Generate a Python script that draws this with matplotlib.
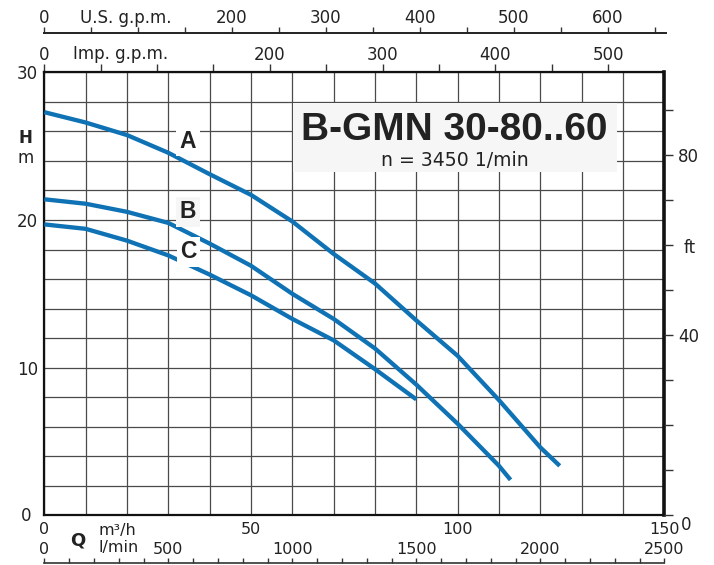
import numpy as np
import matplotlib
matplotlib.use("Agg")
import matplotlib.pyplot as plt
from matplotlib.patches import Rectangle

plt.rcParams['font.family'] = ['DejaVu Sans']

# ---------------- data ----------------
q_a = [0, 10, 20, 30, 40, 50, 60, 70, 80, 90, 100, 110, 120, 124.7]
h_a = [27.3, 26.6, 25.75, 24.55, 23.1, 21.7, 19.9, 17.7, 15.7, 13.2, 10.8, 7.8, 4.6, 3.35]
q_b = [0, 10, 20, 30, 40, 50, 60, 70, 80, 90, 100, 110, 112.8]
h_b = [21.4, 21.1, 20.55, 19.8, 18.4, 16.9, 15.0, 13.3, 11.3, 8.85, 6.2, 3.35, 2.4]
q_c = [0, 10, 20, 30, 40, 50, 60, 70, 80, 90]
h_c = [19.7, 19.4, 18.6, 17.6, 16.3, 14.9, 13.3, 11.85, 9.9, 7.85]

curve_labels = ['A', 'B', 'C']
title = 'B-GMN 30-80..60'
subtitle = 'n = 3450 1/min'

x_major = [0, 50, 100, 150]
y_major = [10, 20, 30]
ft_labels = {40: '40', 80: '80'}
us_labels = {0: '0', 200: '200', 300: '300', 400: '400', 500: '500', 600: '600'}
imp_labels = {0: '0', 200: '200', 300: '300', 400: '400', 500: '500'}
lmin_labels = {0: '0', 500: '500', 1000: '1000', 1500: '1500', 2000: '2000', 2500: '2500'}

US_GPM = 4.40287   # per m3/h
IMP_GPM = 3.66615  # per m3/h
LMIN = 1000 / 60.0
FT = 3.28084

W, H = 714, 565
fig = plt.figure(figsize=(W / 100, H / 100), dpi=100)

def fx(x):
    return x / W

def fy(y):
    return 1 - y / H

X0, X1 = 44.3, 664.3
Y0, Y1 = 515.3, 72.3
ax = fig.add_axes([fx(X0), fy(Y0), (X1 - X0) / W, (Y0 - Y1) / H])
ax.set_xlim(0, 150)
ax.set_ylim(0, 30)

TXT = '#222222'
GRID = '#4a4a4a'
BLUE = '#0f72b4'
FS = 12
FSB = 11.5

ax.set_xticks(x_major)
ax.set_xticklabels([str(v) for v in x_major])
ax.set_xticks(np.arange(0, 151, 10), minor=True)
ax.set_yticks(y_major)
ax.set_yticklabels([str(v) for v in y_major])
ax.set_yticks(np.arange(0, 31, 2), minor=True)
ax.tick_params(axis='x', which='both', length=0, pad=5.0, labelsize=FSB, labelcolor=TXT)
ax.tick_params(axis='y', which='both', length=0, pad=4.5, labelsize=FS, labelcolor=TXT)
ax.grid(True, which='both', color=GRID, linewidth=0.9)
ax.set_axisbelow(True)
for s in ['left', 'bottom', 'top']:
    ax.spines[s].set_linewidth(1.6)
    ax.spines[s].set_color('#111111')
ax.spines['right'].set_linewidth(2.6)
ax.spines['right'].set_color('#111111')

# curves
for q, h in [(q_a, h_a), (q_b, h_b), (q_c, h_c)]:
    ax.plot(q, h, color=BLUE, linewidth=3.1, solid_capstyle='butt', solid_joinstyle='round', zorder=5)

# curve labels
lab_pos = [(34.8, 25.34, 'white'), (34.8, 20.55, '#f6f6f6'), (34.8, 17.85, 'white')]
for lab, (x, y, bg) in zip(curve_labels, lab_pos):
    ax.text(x, y, lab, fontsize=16.5, fontweight='bold', family='Liberation Sans', color=TXT,
            ha='center', va='center', zorder=6,
            bbox=dict(boxstyle='square,pad=0.15', facecolor=bg, edgecolor='none'))

# title box
ax.add_patch(Rectangle((60.1, 23.26), 78.4, 4.64, facecolor='#f6f6f6', edgecolor='none', zorder=4))
ax.text(99.3, 26.1, title, fontsize=28, fontweight='bold', family='Liberation Sans', color=TXT,
        ha='center', va='center', zorder=6)
ax.text(99.3, 24.05, subtitle, fontsize=13.6, color=TXT, ha='center', va='center', zorder=6)

# right ft axis
ax2 = ax.twinx()
ax2.set_ylim(0, 30 * FT)
ft_ticks = np.arange(0, 91, 10)
ax2.set_yticks(ft_ticks)
ax2.set_yticklabels([ft_labels.get(int(t), '') for t in ft_ticks])
ax2.tick_params(axis='y', direction='out', length=6.5, width=1.0, pad=3.5, labelsize=FS,
                labelcolor=TXT, color='#333333')
for s in ax2.spines.values():
    s.set_visible(False)

# top Imp gpm axis (on top spine)
imp = ax.secondary_xaxis('top', functions=(lambda x: x * IMP_GPM, lambda x: x / IMP_GPM))
imp_ticks = np.arange(0, 551, 50)
imp.set_xticks(imp_ticks)
imp.set_xticklabels([imp_labels.get(int(t), '') for t in imp_ticks])
imp.tick_params(direction='out', length=5.5, width=1.0, pad=0.2, labelsize=FS, labelcolor=TXT, color='#333333')
imp.spines['top'].set_visible(False)

# top US gpm axis
us = fig.add_axes([fx(X0), fy(33.5), (X1 - X0 + 2) / W, 1e-4])
us.set_xlim(0, 150 * US_GPM * (X1 - X0 + 2) / (X1 - X0))
us_ticks = np.arange(0, 651, 50)
us.set_xticks(us_ticks)
us.set_xticklabels([us_labels.get(int(t), '') for t in us_ticks])
us.xaxis.tick_top()
us.tick_params(axis='x', direction='out', length=4, width=1.0, pad=0.6, labelsize=FS, labelcolor=TXT,
               color='#333333')
us.set_yticks([])
for s in ['left', 'right', 'bottom']:
    us.spines[s].set_visible(False)
us.spines['top'].set_linewidth(1.4)
us.spines['top'].set_color('#222222')
us.patch.set_visible(False)

# bottom l/min axis
lm = fig.add_axes([fx(X0), fy(562.7), (X1 - X0) / W, 1e-4])
lm.set_xlim(0, 150 * LMIN)
lm_ticks = np.arange(0, 2501, 100)
lm.set_xticks(lm_ticks)
lm.set_xticklabels([lmin_labels.get(int(t), '') for t in lm_ticks])
lm.xaxis.tick_top()
lm.tick_params(axis='x', direction='out', length=3.5, width=1.0, pad=0.6, labelsize=FSB, labelcolor=TXT,
               color='#333333')
lm.set_yticks([])
for s in ['left', 'right', 'bottom']:
    lm.spines[s].set_visible(False)
lm.spines['top'].set_linewidth(1.2)
lm.spines['top'].set_color('#333333')
lm.patch.set_visible(False)

# free texts
fig.text(fx(80), fy(23.3), 'U.S. g.p.m.', fontsize=FS, color=TXT, ha='left', va='baseline')
fig.text(fx(73), fy(59.3), 'Imp. g.p.m.', fontsize=FS, color=TXT, ha='left', va='baseline')
fig.text(fx(25), fy(138), 'H', fontsize=12, fontweight='bold', color=TXT, ha='center', va='center')
fig.text(fx(25.5), fy(163.3), 'm', fontsize=FS, color=TXT, ha='center', va='baseline')
fig.text(fx(26), fy(516), '0', fontsize=FS, color=TXT, ha='center', va='center')
fig.text(fx(686), fy(525), '0', fontsize=FS, color=TXT, ha='center', va='center')
fig.text(fx(689.5), fy(248), 'ft', fontsize=FS, color=TXT, ha='center', va='center')
fig.text(fx(78), fy(540), 'Q', fontsize=13, fontweight='bold', color=TXT, ha='center', va='center')
fig.text(fx(98), fy(535), 'm³/h', fontsize=FSB, color=TXT, ha='left', va='baseline')
fig.text(fx(98), fy(551.7), 'l/min', fontsize=FSB, color=TXT, ha='left', va='baseline')

fig.savefig('out.png', dpi=100)
